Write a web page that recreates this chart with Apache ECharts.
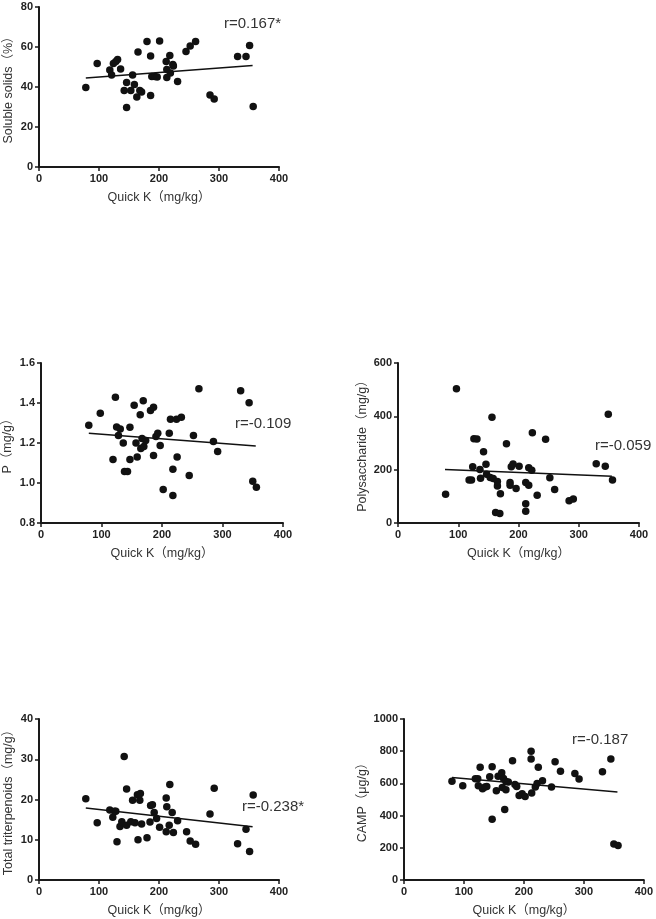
<!DOCTYPE html>
<html>
<head>
<meta charset="utf-8">
<script src="https://cdn.jsdelivr.net/npm/echarts@6/dist/echarts.min.js"></script>
<style>
  html, body { margin: 0; padding: 0; background: #fff; }
  #chart { width: 656px; height: 919px; }
</style>
</head>
<body>
<div id="chart"></div>
<script>
// Quick K (mg/kg) vs. quality indices, one array of [x, y] per panel
var solubleSolids = [
  [78, 39.7], [97, 51.7], [118, 48.5], [121, 46], [124, 51.7], [128, 52.8], [131, 53.7],
  [136, 49], [142, 38.3], [146, 42.2], [146, 29.7], [153, 38.3], [156, 46], [159, 41.2],
  [163, 35], [165, 57.5], [168, 38.3], [171, 37.5], [180, 62.7], [186, 55.5], [186, 35.7],
  [188, 45.3], [193, 45.3], [197, 45], [201, 63], [212, 52.7], [213, 48.7], [213, 44.7],
  [218, 55.8], [219, 47], [223, 51.2], [224, 50.5], [231, 42.8], [245, 57.8], [252, 60.5],
  [261, 62.8], [285, 36], [292, 34], [331, 55.2], [345, 55.3], [351, 60.7], [357, 30.3]
]
var phosphorus = [
  [79, 1.289], [98, 1.349], [119, 1.118], [123, 1.429], [125, 1.28], [128, 1.238], [131, 1.27],
  [136, 1.2], [138, 1.058], [143, 1.058], [147, 1.279], [147, 1.118], [154, 1.389], [157, 1.2],
  [159, 1.13], [164, 1.341], [165, 1.173], [167, 1.222], [169, 1.411], [170, 1.182], [173, 1.213],
  [181, 1.362], [186, 1.379], [186, 1.138], [190, 1.232], [193, 1.249], [197, 1.188], [202, 0.967],
  [212, 1.249], [214, 1.319], [218, 1.069], [218, 0.937], [224, 1.319], [225, 1.13], [232, 1.329],
  [245, 1.038], [252, 1.238], [261, 1.471], [285, 1.208], [292, 1.158], [330, 1.461], [344, 1.401],
  [350, 1.009], [356, 0.979]
]
var polysaccharide = [
  [79, 108], [97, 503], [118, 161], [122, 161], [124, 211], [126, 316], [131, 315], [136, 201],
  [137, 168], [142, 267], [146, 220], [147, 183], [153, 171], [156, 397], [158, 167], [162, 39],
  [165, 139], [165, 156], [169, 36], [170, 110], [180, 297], [186, 152], [186, 142], [188, 211],
  [191, 221], [196, 129], [201, 213], [212, 152], [212, 72], [212, 44], [217, 142], [217, 207],
  [222, 198], [223, 338], [231, 104], [245, 314], [252, 170], [260, 126], [284, 83], [291, 90],
  [329, 222], [344, 213], [349, 408], [356, 161]
]
var triterpenoids = [
  [78, 20.2], [97, 14.2], [118, 17.4], [123, 15.6], [126, 17.1], [128, 17.1], [130, 9.5],
  [135, 13.3], [138, 14.5], [142, 30.7], [146, 22.6], [146, 13.6], [153, 14.5], [156, 19.8],
  [160, 14.2], [164, 21.2], [165, 10], [168, 19.8], [169, 21.5], [171, 13.9], [180, 10.5],
  [185, 14.4], [186, 18.5], [189, 18.7], [192, 16.8], [196, 15.3], [201, 13.1], [212, 20.4],
  [213, 18.2], [212, 12], [218, 23.7], [217, 13.6], [222, 16.8], [224, 11.8], [231, 14.7],
  [246, 12], [252, 9.7], [261, 8.9], [285, 16.4], [292, 22.8], [331, 9], [345, 12.6],
  [351, 7.1], [357, 21.1]
]
var camp = [
  [80, 614], [98, 585], [119, 629], [123, 629], [124, 585], [127, 701], [131, 566], [135, 577],
  [138, 581], [143, 641], [147, 703], [147, 378], [154, 554], [157, 645], [163, 666], [164, 575],
  [166, 631], [168, 438], [170, 612], [170, 560], [174, 608], [181, 741], [185, 593], [188, 581],
  [192, 525], [197, 535], [202, 519], [212, 799], [212, 751], [213, 541], [219, 577], [222, 600],
  [224, 701], [231, 616], [246, 577], [252, 734], [261, 676], [285, 662], [292, 627], [331, 672],
  [345, 751], [350, 224], [357, 214]
]

// fitted lines, end points
var fitSoluble = [[78, 44.5], [356, 50.8]]
var fitP = [[79, 1.249], [355, 1.185]]
var fitPoly = [[78, 201], [355, 175]]
var fitTriter = [[78, 17.9], [356, 13.2]]
var fitCamp = [[80, 637], [356, 546]]

var rLabels = ['r=0.167*', 'r=-0.109', 'r=-0.059', 'r=-0.238*', 'r=-0.187']
var yNames = ['Soluble solids（%）', 'P（mg/g）', 'Polysaccharide（mg/g）', 'Total triterpenoids（mg/g）', 'CAMP（μg/g）']
var yMin = [0, 0.8, 0, 0, 0]
var yMax = [80, 1.6, 600, 40, 1000]
var yStep = [20, 0.2, 200, 10, 200]
var xName = 'Quick K（mg/kg）'

var font = 'Liberation Sans, Arial, Noto Sans CJK SC, sans-serif'
var grids = [
  { left: 39, top: 7, width: 240, height: 160 },
  { left: 41, top: 363, width: 242, height: 160 },
  { left: 398, top: 363, width: 241, height: 160 },
  { left: 39, top: 719, width: 240, height: 161 },
  { left: 404, top: 719, width: 241, height: 161 }
]
var yNameGap = [24, 27, 29, 24, 35]
var rPos = [[224, 25], [235, 425], [595, 447], [242, 808], [572, 741]]

var scatterSets = [solubleSolids, phosphorus, polysaccharide, triterpenoids, camp]
var fitSets = [fitSoluble, fitP, fitPoly, fitTriter, fitCamp]

var axisLine = { show: true, lineStyle: { color: '#1a1a1a', width: 2 } }
var axisTick = { show: true, length: 4, lineStyle: { color: '#1a1a1a', width: 1.5 } }

var xAxes = [], yAxes = [], series = [], graphics = []
for (var i = 0; i < 5; i++) {
  xAxes.push({
    gridIndex: i,
    type: 'value',
    min: 0,
    max: 400,
    interval: 100,
    name: xName,
    nameLocation: 'middle',
    nameGap: 24,
    nameTextStyle: { fontFamily: font, fontSize: 12.5, color: '#333' },
    axisLine: axisLine,
    axisTick: axisTick,
    axisLabel: { margin: 6, fontFamily: font, fontSize: 11, fontWeight: 'bold', color: '#222' },
    splitLine: { show: false }
  })
  yAxes.push({
    gridIndex: i,
    type: 'value',
    min: yMin[i],
    max: yMax[i],
    interval: yStep[i],
    name: yNames[i],
    nameLocation: 'middle',
    nameGap: yNameGap[i],
    nameTextStyle: { fontFamily: font, fontSize: 12.5, color: '#333' },
    axisLine: axisLine,
    axisTick: axisTick,
    axisLabel: {
      margin: 6, fontFamily: font, fontSize: 11, fontWeight: 'bold', color: '#222',
      formatter: i === 1 ? function(v) { return v.toFixed(1) } : function(v) { return String(v) }
    },
    splitLine: { show: false }
  })
  series.push({
    type: 'scatter',
    xAxisIndex: i,
    yAxisIndex: i,
    symbolSize: 7.5,
    itemStyle: { color: '#111', opacity: 1 },
    data: scatterSets[i]
  })
  series.push({
    type: 'line',
    xAxisIndex: i,
    yAxisIndex: i,
    showSymbol: false,
    lineStyle: { color: '#111', width: 1.5 },
    data: fitSets[i]
  })
  graphics.push({
    type: 'text',
    left: rPos[i][0],
    top: rPos[i][1] - 9,
    style: { text: rLabels[i], fontFamily: font, fontSize: 15, fill: '#333' }
  })
}

var chart = echarts.init(document.getElementById('chart'))
chart.setOption({
  backgroundColor: '#fff',
  animation: false,
  grid: grids,
  xAxis: xAxes,
  yAxis: yAxes,
  series: series,
  graphic: graphics
})
</script>
</body>
</html>
